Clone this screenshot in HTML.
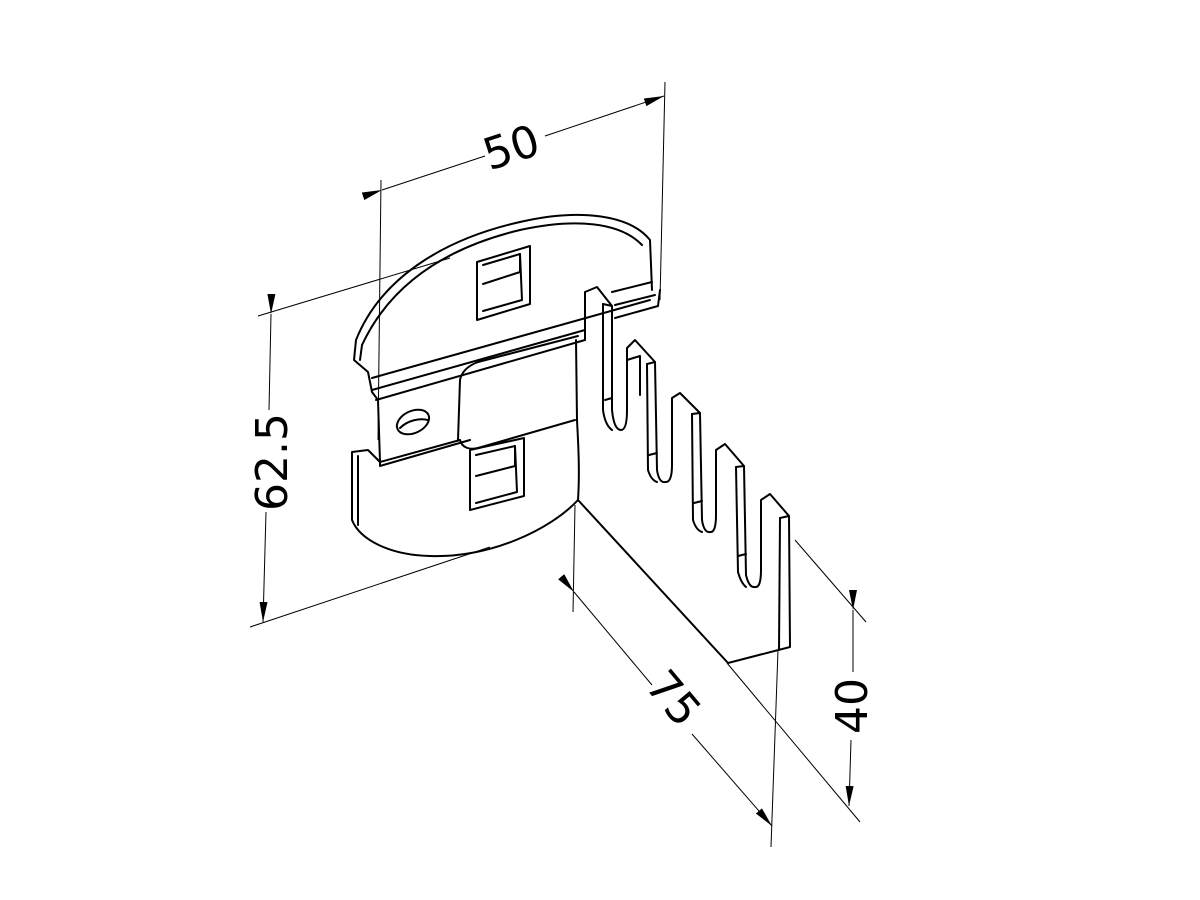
<!DOCTYPE html>
<html><head><meta charset="utf-8"><style>
html,body{margin:0;padding:0;background:#fff;}
svg{display:block}
text{font-family:"DejaVu Sans","Liberation Sans",sans-serif;font-size:44px;fill:#000}
</style></head><body>
<svg width="1200" height="900" viewBox="0 0 1200 900" xmlns="http://www.w3.org/2000/svg">
<defs>
<marker id="ar" viewBox="0 0 20 8" refX="20" refY="4" markerWidth="20" markerHeight="8" markerUnits="userSpaceOnUse" orient="auto">
<path d="M0,0 L20,4 L0,8 Z" fill="#000"/></marker>
</defs>
<g stroke="#000" stroke-width="1" fill="none">
<line x1="381" y1="180" x2="378" y2="440"/>
<line x1="665" y1="82" x2="660" y2="300"/>
<line x1="382" y1="190" x2="485" y2="156" marker-start="url(#ar)"/>
<line x1="545" y1="136" x2="664" y2="96" marker-end="url(#ar)"/>
<line x1="258" y1="316" x2="450" y2="258"/>
<line x1="250" y1="627" x2="490" y2="547"/>
<line x1="271" y1="314" x2="269" y2="410" marker-start="url(#ar)"/>
<line x1="266" y1="512" x2="263" y2="622" marker-end="url(#ar)"/>
<line x1="575" y1="505" x2="573" y2="612"/>
<line x1="778" y1="650" x2="771" y2="847"/>
<line x1="574" y1="592" x2="652" y2="685" marker-start="url(#ar)"/>
<line x1="692" y1="734" x2="772" y2="826" marker-end="url(#ar)"/>
<line x1="795" y1="540" x2="866" y2="622"/>
<line x1="727" y1="663" x2="860" y2="822"/>
<line x1="853" y1="610" x2="853" y2="672" marker-start="url(#ar)"/>
<line x1="851" y1="740" x2="849" y2="806" marker-end="url(#ar)"/>
</g>
<text transform="translate(516,162) rotate(-18)" text-anchor="middle">50</text>
<text transform="translate(287,462) rotate(-90)" text-anchor="middle">62.5</text>
<text transform="translate(662,708) rotate(50)" text-anchor="middle">75</text>
<text transform="translate(867,706) rotate(-90)" text-anchor="middle">40</text>

<g stroke="#000" stroke-width="2" fill="none" stroke-linejoin="round" stroke-linecap="round">
<!-- top plate arc -->
<path d="M356,340 C380,280 440,240 520,222 C580,208 630,215 650,240 L652,290"/>
<path d="M362,345 C390,285 445,248 520,230 C575,218 620,222 642,245"/>
<path d="M356,340 L354,360 L368,372 L372,392 L378,400 L380,462"/>
<path d="M362,345 L360,360"/>
<path d="M372,378 L650,300"/>
<path d="M372,390 L585,330"/>
<path d="M376,400 L585,340"/>
<path d="M612,292 L652,282"/>
<path d="M615,305 L655,295"/>
<path d="M615,318 L658,306 L660,290"/>
<path d="M380,462 L460,440"/>
<ellipse cx="413" cy="422" rx="17" ry="11" transform="rotate(-25 413 422)"/>
<path d="M400,428 C408,420 420,418 428,420"/>
<path d="M458,440 L460,380 C462,370 470,365 478,362 L578,336"/>
<path d="M460,440 C462,448 470,450 478,448 L575,420"/>
<path d="M576,340 L577,420 C578,440 580,470 578,500"/>
<path d="M380,462 L368,450 L352,452 L352,520 C360,540 390,555 430,556 C490,558 550,530 578,500"/>
<path d="M358,456 L358,525"/>
<path d="M380,462 L380,466 L470,440"/>
<path d="M477,262 L530,246 L530,304 L477,320 Z"/>
<path d="M483,265 L520,254 L522,300 L483,311"/>
<path d="M483,284 L520,272 L520,254"/>
<path d="M470,450 L524,438 L524,496 L470,510 Z"/>
<path d="M476,455 L515,446 L517,492 L476,503"/>
<path d="M476,476 L515,466 L515,446"/>
<!-- fork plate -->
<path d="M578,500 L728,663 L790,647 L789,516 L770,494 L761,500 L761,570 Q761,588 755,587 Q749,588 746,575 L744,466 L725,444 L716,450 L716,515 Q716,533 710,532 Q704,533 702,520 L700,413 L680,393 L672,398 L672,465 Q672,483 665,482 Q659,483 657,470 L655,362 L635,340 L627,348 L627,410 Q627,430 621,430 Q614,430 612,410 L612,306 L597,287 L585,292 L585,340"/>
<!-- thickness lines -->
<path d="M603,304 L612,306"/><path d="M603,304 L603,410 Q605,425 612,430"/>
<path d="M647,364 L655,362"/><path d="M647,364 L648,470 Q651,480 657,482"/>
<path d="M692,414 L700,413"/><path d="M692,414 L693,520 Q696,530 702,532"/>
<path d="M736,467 L744,466"/><path d="M736,467 L738,572 Q741,583 746,587"/>
<path d="M780,518 L789,516"/><path d="M780,518 L779,650"/>
<path d="M605,400 L612,398"/><path d="M649,455 L657,453"/><path d="M694,503 L702,501"/><path d="M738,556 L746,554"/>
<path d="M627,360 L640,356 L640,395"/>
</g>
</svg>
</body></html>
